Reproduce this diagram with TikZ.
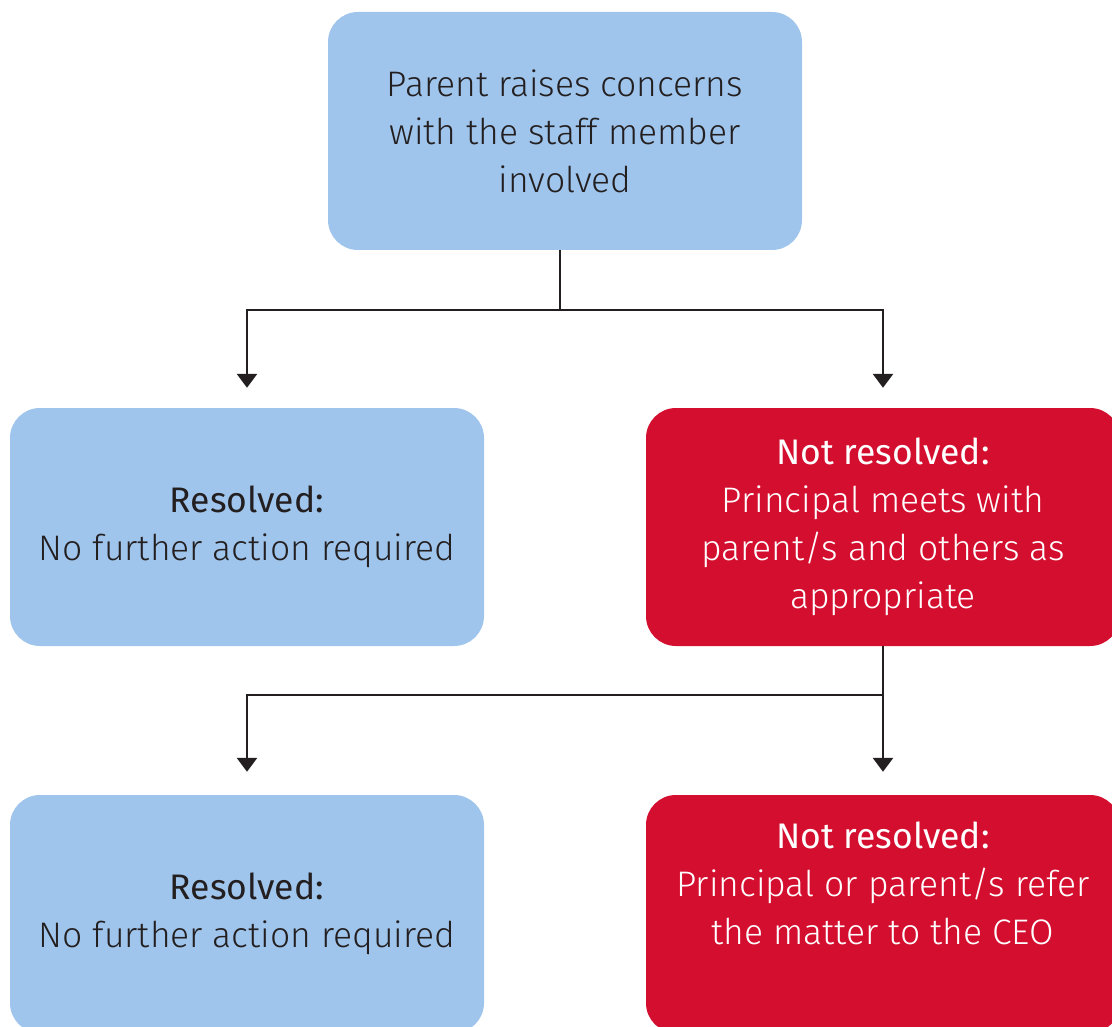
\documentclass[tikz,border=0pt]{standalone}
\usepackage{fontspec}
\setmainfont{Fira Sans Light}[BoldFont={Fira Sans}]
\usetikzlibrary{arrows.meta}
\definecolor{boxblue}{HTML}{A0C5EC}
\definecolor{boxred}{HTML}{D40E2E}
\definecolor{linedark}{HTML}{231F20}
\begin{document}
\begin{tikzpicture}[x=1pt,y=-1pt,
  box/.style={rounded corners=30pt, minimum width=474pt, minimum height=238pt,
    align=center, font=\fontsize{35.5}{48}\selectfont, inner sep=0pt},
  bluebox/.style={box, fill=boxblue, text=linedark},
  redbox/.style={box, fill=boxred, text=white},
  conn/.style={draw=linedark, line width=2.8pt},
  arr/.style={conn, -{Triangle[width=20pt,length=14pt]}}]
\useasboundingbox (0,0) rectangle (1112,1027);
\clip (0,0) rectangle (1112,1027);
\node[bluebox] (top) at (565,131) {Parent raises concerns\\with the staff member\\involved};
\node[bluebox] (res1) at (247,527) {\textbf{Resolved:}\\No further action required};
\node[redbox] (nr1) at (883,527) {\textbf{Not resolved:}\\Principal meets with\\parent/s and others as\\appropriate};
\node[bluebox] (res2) at (247,914) {\textbf{Resolved:}\\No further action required};
\node[redbox] (nr2) at (883,914) {\textbf{Not resolved:}\\Principal or parent/s refer\\the matter to the CEO\\\strut};
\coordinate (j1) at (560,310);
\coordinate (j2) at (883,695);
\draw[conn] (top.south -| j1) -- (j1);
\draw[arr] (j1) -| ([yshift=20pt]res1.north);
\draw[arr] (j1) -| ([yshift=20pt]nr1.north);
\draw[arr] (nr1.south) -- ([yshift=23pt]nr2.north);
\draw[arr] (j2) -| ([yshift=23pt]res2.north);
\end{tikzpicture}
\end{document}
